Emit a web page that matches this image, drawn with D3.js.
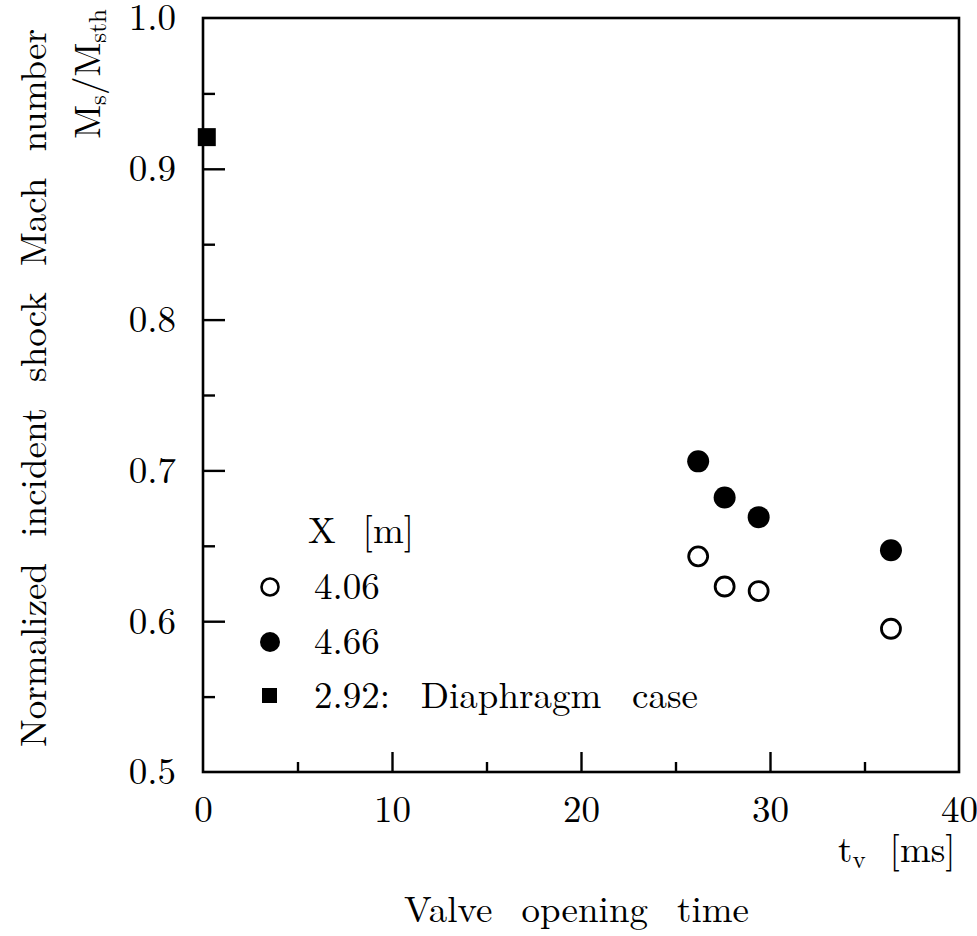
<!DOCTYPE html>
<html>
<head>
<meta charset="utf-8">
<script src="https://cdn.jsdelivr.net/npm/d3@7"></script>
<style>
  html, body { margin: 0; padding: 0; background: #fff; }
</style>
</head>
<body>
<svg id="chart" width="977" height="936"></svg>
<script>
// Valve opening time [ms] and normalized shock Mach number for each station
const tvOpen = [26.2, 27.6, 29.4, 36.4];      // X = 4.06 m
const msOpen = [0.643, 0.623, 0.620, 0.595];
const tvFilled = [26.2, 27.6, 29.4, 36.4];    // X = 4.66 m
const msFilled = [0.706, 0.682, 0.669, 0.647];
const tvDiaphragm = [0.2];                    // X = 2.92 m, diaphragm case
const msDiaphragm = [0.921];

const xMajorTicks = [0, 10, 20, 30, 40];
const xMinorTicks = [5, 15, 25, 35];
const yMajorTicks = [0.5, 0.6, 0.7, 0.8, 0.9, 1.0];
const yMinorTicks = [0.55, 0.65, 0.75, 0.85, 0.95];

const legendLabels = ["4.06", "4.66", "2.92: Diaphragm case"];

const FONT = '"Latin Modern Roman", "Liberation Serif", serif';
const fontSize = 37;
const subSize = 25;

const svg = d3.select("#chart");
const plotL = 203, plotR = 959, plotT = 18, plotB = 772;

const x = d3.scaleLinear().domain([0, 40]).range([plotL, plotR]);
const y = d3.scaleLinear().domain([0.5, 1.0]).range([plotB, plotT]);

// stretch inter-word gaps so a text spans the given width (TeX-like spacing)
function spreadWords(sel, width) {
  const node = sel.node();
  const gaps = (node.textContent.match(/ /g) || []).length;
  if (!gaps) return;
  const natural = node.getComputedTextLength();
  sel.style("word-spacing", ((width - natural) / gaps) + "px");
}

// frame
svg.append("rect")
  .attr("x", plotL).attr("y", plotT)
  .attr("width", plotR - plotL).attr("height", plotB - plotT)
  .attr("fill", "none").attr("stroke", "#000").attr("stroke-width", 2.6);

// bottom axis: inward ticks, labels below
const xAxis = svg.append("g").attr("transform", `translate(0,${plotB})`)
  .call(d3.axisBottom(x).tickValues(xMajorTicks).tickSizeInner(-20).tickSizeOuter(0)
    .tickPadding(15).tickFormat(d3.format("d")));
xAxis.select(".domain").remove();
xAxis.selectAll(".tick line").attr("stroke-width", 2.4);
xAxis.selectAll(".tick text").attr("dy", null).attr("dominant-baseline", "hanging")
  .attr("font-size", fontSize).style("font-family", FONT);
xAxis.selectAll(".tick text").attr("y", 16);
xAxis.selectAll(".tick").filter(d => d === 0 || d === 40).select("line").remove();

const xMinor = svg.append("g").attr("transform", `translate(0,${plotB})`)
  .call(d3.axisBottom(x).tickValues(xMinorTicks).tickSizeInner(-10).tickSizeOuter(0).tickFormat(""));
xMinor.select(".domain").remove();
xMinor.selectAll(".tick line").attr("stroke-width", 2.4);

// left axis: inward ticks, labels to the left
const yAxis = svg.append("g").attr("transform", `translate(${plotL},0)`)
  .call(d3.axisLeft(y).tickValues(yMajorTicks).tickSizeInner(-22).tickSizeOuter(0)
    .tickPadding(27).tickFormat(d3.format(".1f")));
yAxis.select(".domain").remove();
yAxis.selectAll(".tick line").attr("stroke-width", 2.4);
yAxis.selectAll(".tick text").attr("font-size", fontSize).style("font-family", FONT);
yAxis.selectAll(".tick").filter(d => d === 0.5 || d === 1.0).select("line").remove();

const yMinor = svg.append("g").attr("transform", `translate(${plotL},0)`)
  .call(d3.axisLeft(y).tickValues(yMinorTicks).tickSizeInner(-12).tickSizeOuter(0).tickFormat(""));
yMinor.select(".domain").remove();
yMinor.selectAll(".tick line").attr("stroke-width", 2.4);

// data markers
const openPts = tvOpen.map((t, i) => ({ t, m: msOpen[i] }));
const filledPts = tvFilled.map((t, i) => ({ t, m: msFilled[i] }));
const sqPts = tvDiaphragm.map((t, i) => ({ t, m: msDiaphragm[i] }));

svg.append("g").selectAll("circle").data(openPts).join("circle")
  .attr("cx", d => x(d.t)).attr("cy", d => y(d.m)).attr("r", 9.5)
  .attr("fill", "#fff").attr("stroke", "#000").attr("stroke-width", 2.8);

svg.append("g").selectAll("circle").data(filledPts).join("circle")
  .attr("cx", d => x(d.t)).attr("cy", d => y(d.m)).attr("r", 11)
  .attr("fill", "#000");

svg.append("g").selectAll("rect").data(sqPts).join("rect")
  .attr("x", d => x(d.t) - 9).attr("y", d => y(d.m) - 9)
  .attr("width", 18).attr("height", 18).attr("fill", "#000");

// legend
const lg = svg.append("g");
const head = lg.append("text").attr("x", 308).attr("y", 543).attr("font-size", fontSize)
  .style("font-family", FONT).text("X [m]");
spreadWords(head, 106);
const legRows = [599, 654, 708];
lg.append("circle").attr("cx", 270).attr("cy", legRows[0] - 12).attr("r", 8.5)
  .attr("fill", "#fff").attr("stroke", "#000").attr("stroke-width", 2.6);
lg.append("circle").attr("cx", 270).attr("cy", legRows[1] - 12).attr("r", 10).attr("fill", "#000");
lg.append("rect").attr("x", 262).attr("y", legRows[2] - 20).attr("width", 15).attr("height", 15).attr("fill", "#000");
legendLabels.forEach((s, i) => {
  const t = lg.append("text").attr("x", 314).attr("y", legRows[i]).attr("font-size", fontSize)
    .style("font-family", FONT).text(s);
  if (i === 2) spreadWords(t, 384);
});

// x-axis titles
const tx = svg.append("text").attr("x", 838).attr("y", 862).attr("font-size", fontSize)
  .style("font-family", FONT);
tx.append("tspan").text("t");
tx.append("tspan").attr("font-size", subSize).attr("dy", 6).text("v");
tx.append("tspan").attr("dy", -6).attr("dx", 24).text("[ms]");

const vt = svg.append("text").attr("x", 404).attr("y", 922)
  .attr("font-size", fontSize).style("font-family", FONT).text("Valve opening time");
spreadWords(vt, 345);

// y-axis titles
const yt = svg.append("text").attr("transform", "translate(46,747) rotate(-90)")
  .attr("font-size", fontSize).style("font-family", FONT)
  .text("Normalized incident shock Mach number");
spreadWords(yt, 718);

const ty = svg.append("text").attr("transform", "translate(100,74) rotate(-90)")
  .attr("text-anchor", "middle").attr("font-size", fontSize).style("font-family", FONT);
ty.append("tspan").text("M");
ty.append("tspan").attr("font-size", subSize).attr("dy", 6).text("s");
ty.append("tspan").attr("dy", -6).text("/M");
ty.append("tspan").attr("font-size", subSize).attr("dy", 6).text("sth");
</script>
</body>
</html>
